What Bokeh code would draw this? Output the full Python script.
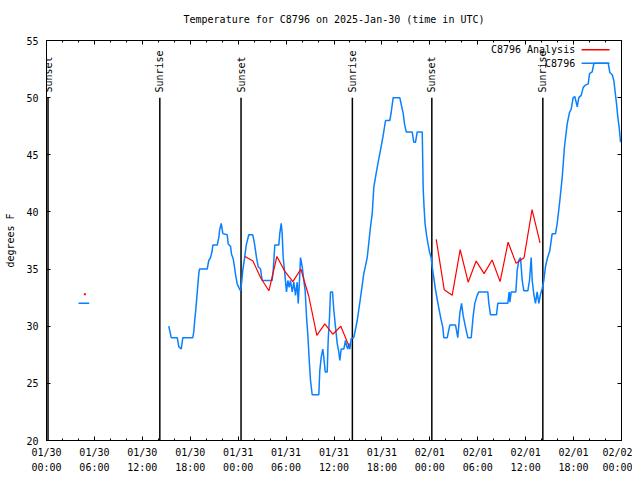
import math
from bokeh.plotting import figure
from bokeh.models import (Range1d, FixedTicker, LinearAxis, Label, LabelSet, Arrow,
                          ColumnDataSource)
from bokeh.embed import file_html
from bokeh.resources import INLINE
from bokeh.core.properties import value

# ---------------- data ----------------
TITLE = "Temperature for C8796 on 2025-Jan-30 (time in UTC)"
Y_LABEL = "degrees F"
SERIES_ANALYSIS = "C8796 Analysis"
SERIES_OBS = "C8796"

# x axis: hours since 2025-01-30 00:00 UTC
tick_hours = [0, 6, 12, 18, 24, 30, 36, 42, 48, 54, 60, 66, 72]
tick_labels = ["01/30\n00:00", "01/30\n06:00", "01/30\n12:00", "01/30\n18:00",
               "01/31\n00:00", "01/31\n06:00", "01/31\n12:00", "01/31\n18:00",
               "02/01\n00:00", "02/01\n06:00", "02/01\n12:00", "02/01\n18:00",
               "02/02\n00:00"]
minor_tick_hours = [0, 2, 4, 6, 8, 10, 12, 14, 16, 18, 20, 22, 24, 26, 28, 30, 32, 34,
                    36, 38, 40, 42, 44, 46, 48, 50, 52, 54, 56, 58, 60, 62, 64, 66, 68,
                    70, 72]
y_ticks = [20, 25, 30, 35, 40, 45, 50, 55]

sun_hours = [0.19, 14.19, 24.36, 38.30, 48.25, 62.15]
sun_labels = ["Sunset", "Sunrise", "Sunset", "Sunrise", "Sunset", "Sunrise"]
sun_line_bottom = 20
sun_line_top = 50

# station observations (two pieces)
obs_hours_a = [4.01, 5.35]
obs_temp_a = [32.0, 32.0]

obs_hours_b = [15.31, 15.62, 16.37, 16.57, 16.87, 17.07, 18.32, 18.44, 18.57, 18.70,
               18.82, 18.95, 19.07, 19.16, 20.12, 20.32, 20.54, 20.75, 20.82, 21.38,
               21.58, 21.70, 21.88, 22.08, 22.63, 22.75, 23.04, 23.17, 23.38, 23.54,
               23.70, 23.88, 24.08, 24.29, 24.42, 24.58, 24.79, 25.01, 25.33, 25.83,
               26.05, 26.30, 26.51, 26.80, 27.01, 28.26, 28.39, 28.59, 29.09, 29.21,
               29.39, 29.51, 29.64, 29.80, 30.05, 30.22, 30.39, 30.55, 30.77, 30.97,
               31.18, 31.39, 31.52, 31.68, 31.81, 32.02, 32.22, 32.39, 32.56, 32.72,
               32.90, 33.06, 33.27, 34.10, 34.22, 34.40, 34.60, 34.72, 34.90, 35.15,
               35.27, 35.44, 35.56, 35.81, 35.98, 36.19, 36.40, 36.60, 36.73, 36.90,
               37.23, 37.44, 37.57, 37.73, 37.85, 37.98, 38.15, 38.48, 38.91, 39.32,
               39.73, 40.16, 40.57, 40.78, 40.99, 41.20, 41.41, 41.82, 42.16, 42.45,
               42.99, 43.16, 43.41, 44.24, 44.45, 44.67, 44.83, 45.04, 45.79, 45.99,
               46.21, 46.42, 47.05, 47.17, 47.27, 47.40, 47.58, 47.77, 47.96, 48.17,
               48.27, 48.46, 48.71, 48.96, 49.15, 49.40, 49.63, 49.75, 50.18, 50.50,
               51.22, 51.50, 51.75, 51.97, 52.18, 52.47, 52.76, 53.18, 53.43, 53.63,
               53.93, 54.13, 55.26, 55.39, 55.60, 56.35, 56.51, 57.76, 57.94, 58.02,
               58.19, 58.77, 58.94, 59.14, 59.35, 59.57, 59.77, 60.27, 60.48, 60.69,
               60.82, 61.02, 61.23, 61.44, 61.65, 61.86, 62.07, 62.27, 62.48, 62.70,
               63.02, 63.32, 63.74, 63.95, 64.28, 64.58, 64.86, 65.20, 65.49, 65.70,
               65.95, 66.15, 66.46, 66.65, 66.95, 67.21, 67.49, 67.83, 68.00, 68.33,
               68.54, 70.34, 70.54, 70.84, 71.04, 71.38, 71.54, 71.71, 71.88]
obs_temp_b = [30.0, 29.0, 29.0, 28.2, 28.0, 29.0, 29.0, 29.5, 30.6, 31.5,
              32.5, 33.6, 34.6, 35.0, 35.0, 35.75, 36.0, 36.6, 37.1, 37.1,
              37.8, 38.5, 39.0, 38.1, 38.0, 37.2, 37.0, 36.3, 35.9, 35.2,
              34.4, 33.7, 33.4, 33.1, 33.7, 34.9, 35.9, 37.1, 38.0, 38.0,
              37.2, 36.0, 35.2, 35.0, 34.0, 34.0, 34.9, 37.1, 37.1, 38.1,
              39.0, 38.1, 36.0, 34.9, 33.0, 34.0, 33.4, 34.0, 33.0, 33.85,
              32.7, 33.85, 32.0, 34.0, 36.0, 35.2, 34.0, 33.1, 30.8, 29.3,
              27.0, 25.25, 24.0, 24.0, 26.1, 27.3, 28.0, 27.3, 26.0, 26.0,
              28.75, 30.8, 33.0, 33.0, 31.4, 29.9, 28.5, 27.75, 27.0, 28.0,
              28.0, 28.75, 28.3, 28.0, 28.5, 28.0, 28.9, 29.0, 30.5, 32.5,
              34.6, 36.0, 38.7, 39.8, 42.2, 43.05, 43.9, 45.4, 46.7, 48.0,
              48.0, 48.7, 50.0, 50.0, 49.3, 48.6, 47.7, 47.0, 47.0, 46.1,
              46.1, 47.0, 47.0, 42.0, 40.5, 39.0, 38.0, 37.2, 36.5, 36.0,
              35.3, 34.4, 33.2, 32.2, 31.5, 30.6, 29.9, 29.0, 29.0, 30.1,
              30.1, 29.0, 31.1, 32.0, 30.9, 29.9, 29.0, 29.0, 30.9, 32.0,
              32.7, 33.0, 33.0, 32.0, 31.0, 31.0, 32.0, 32.0, 33.0, 32.1,
              33.0, 33.0, 34.9, 35.75, 36.0, 34.0, 33.1, 33.1, 34.0, 36.0,
              34.0, 32.8, 32.0, 33.0, 32.0, 32.8, 33.3, 34.0, 35.2, 35.9,
              36.6, 38.1, 38.1, 39.0, 41.0, 43.05, 45.7, 47.7, 48.7, 49.0,
              50.0, 50.1, 49.2, 50.0, 50.2, 50.9, 51.1, 51.2, 52.1, 52.25,
              53.0, 53.0, 52.2, 52.0, 51.5, 49.45, 48.3, 47.4, 46.1]

# analysis (hourly)
ana_hours_a = [4.80]
ana_temp_a = [32.8]
ana_hours_b = [24.85, 25.85, 26.85, 27.85, 28.85, 29.85, 30.85, 31.85, 32.85, 33.85,
               34.85, 35.85, 36.85, 37.85]
ana_temp_b = [36.1, 35.7, 34.2, 33.1, 36.1, 34.8, 33.9, 35.0, 32.6, 29.2,
              30.2, 29.3, 30.0, 28.3]
ana_hours_c = [48.80, 49.80, 50.80, 51.80, 52.80, 53.80, 54.80, 55.80, 56.80, 57.80,
               58.80, 59.80, 60.80, 61.80]
ana_temp_c = [37.6, 33.2, 32.7, 36.7, 33.85, 35.7, 34.6, 35.8, 33.9, 37.35,
              35.5, 36.0, 40.2, 37.3]

# ---------------- style ----------------
FONT = "DejaVu Sans Mono"
FS = "10px"
BLUE = "#0a80ff"
RED = "#ff0000"

p = figure(width=632, height=476, output_backend="svg", toolbar_location=None,
           x_range=Range1d(0, 72), y_range=Range1d(20, 55),
           min_border_left=46, min_border_right=11, min_border_top=40,
           min_border_bottom=36, background_fill_color="white",
           border_fill_color="white")

p.xgrid.visible = False
p.ygrid.visible = False
p.outline_line_color = "black"
p.outline_line_width = 1

xt = FixedTicker(ticks=tick_hours, minor_ticks=minor_tick_hours)
yt = FixedTicker(ticks=y_ticks, minor_ticks=[])

def style_axis(ax, show_labels):
    ax.axis_line_color = "black"
    ax.major_tick_in = 4
    ax.major_tick_out = 0
    ax.minor_tick_in = 2
    ax.minor_tick_out = 0
    ax.major_tick_line_color = "black"
    ax.minor_tick_line_color = "black"
    ax.major_label_text_font = FONT
    if show_labels:
        ax.major_label_text_font_size = FS
        ax.major_label_text_color = "black"
    else:
        ax.major_label_text_font_size = "1px"
        ax.major_label_text_color = None
        ax.major_label_standoff = 0

p.xaxis.ticker = xt
p.xaxis.major_label_overrides = {h: lab for h, lab in zip(tick_hours, tick_labels)}
p.xaxis.major_label_standoff = 6
p.xaxis.major_label_text_line_height = 1.4
style_axis(p.xaxis[0], True)

p.yaxis.ticker = yt
p.yaxis.major_label_standoff = 8
p.yaxis.axis_label = Y_LABEL
p.yaxis.axis_label_text_font = FONT
p.yaxis.axis_label_text_font_size = FS
p.yaxis.axis_label_text_font_style = "normal"
p.yaxis.axis_label_text_color = "black"
p.yaxis.axis_label_standoff = 7
style_axis(p.yaxis[0], True)

# mirrored tick marks on top and right (no labels)
top = LinearAxis(ticker=FixedTicker(ticks=tick_hours, minor_ticks=minor_tick_hours))
style_axis(top, False)
p.add_layout(top, "above")
right = LinearAxis(ticker=FixedTicker(ticks=y_ticks, minor_ticks=[]))
style_axis(right, False)
p.add_layout(right, "right")

# invisible spacer axis that lifts the title away from the frame
spacer = LinearAxis(ticker=FixedTicker(ticks=tick_hours, minor_ticks=[]))
style_axis(spacer, False)
spacer.axis_line_color = None
spacer.major_tick_line_color = None
spacer.minor_tick_line_color = None
spacer.major_tick_in = 0
spacer.major_tick_out = 15
p.add_layout(spacer, "above")

p.title.text = TITLE
p.title.align = "center"
p.title.text_font = FONT
p.title.text_font_size = FS
p.title.text_font_style = "normal"
p.title.text_color = "black"
p.title.standoff = 2

# sunrise / sunset markers
sun_src = ColumnDataSource(dict(x=sun_hours, y0=[sun_line_bottom] * len(sun_hours),
                                y1=[sun_line_top] * len(sun_hours), text=sun_labels,
                                ty=[sun_line_top + 0.45] * len(sun_hours)))
p.segment(x0="x", y0="y0", x1="x", y1="y1", source=sun_src, line_color="black",
          line_width=1.5)
p.add_layout(LabelSet(x="x", y="ty", text="text", source=sun_src, angle=math.pi / 2,
                      text_align="left", text_baseline="middle", text_font=value(FONT),
                      text_font_size=FS, text_color="black"))

# observations
p.line(obs_hours_a, obs_temp_a, line_color=BLUE, line_width=1.5)
p.line(obs_hours_b, obs_temp_b, line_color=BLUE, line_width=1.5)

# analysis
p.scatter(ana_hours_a, ana_temp_a, marker="square", size=2, line_color=None,
          fill_color=RED)
p.line(ana_hours_b, ana_temp_b, line_color=RED, line_width=1.2)
p.line(ana_hours_c, ana_temp_c, line_color=RED, line_width=1.2)

# legend (text right-aligned, sample to the right, as in the original)
leg_text_x = 66.2
leg_sample_x0 = 67.0
leg_sample_x1 = 70.5
leg_rows = [(SERIES_ANALYSIS, RED, 54.2), (SERIES_OBS, BLUE, 53.0)]
for name, col, yy in leg_rows:
    p.add_layout(Label(x=leg_text_x, y=yy, text=name, text_align="right",
                       text_baseline="middle", text_font=FONT, text_font_size=FS,
                       text_color="black"))
    p.add_layout(Arrow(end=None, x_start=leg_sample_x0, y_start=yy,
                       x_end=leg_sample_x1, y_end=yy, line_color=col, line_width=1.5))

open("out.html", "w").write(file_html(p, INLINE))
